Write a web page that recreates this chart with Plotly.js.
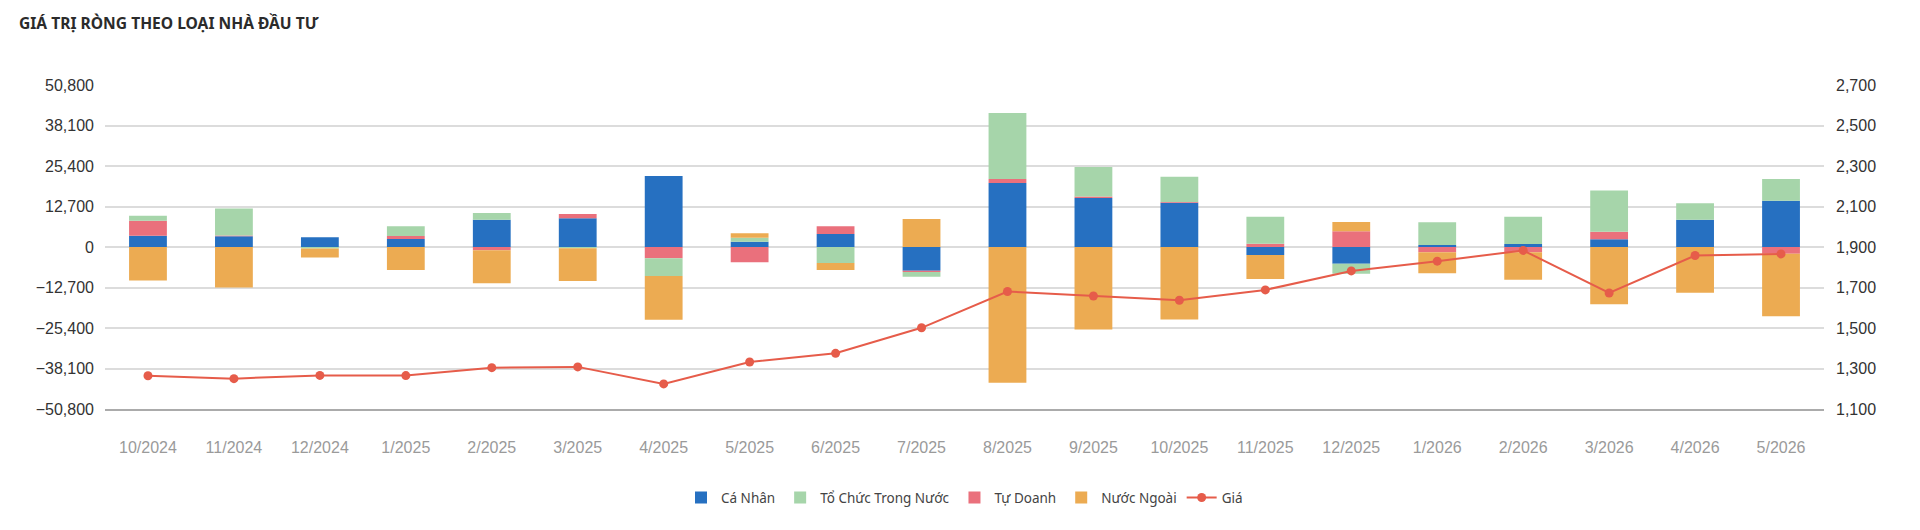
<!DOCTYPE html>
<html>
<head>
<meta charset="utf-8">
<script src="https://cdn.plot.ly/plotly-3.0.1.min.js"></script>
<style>
  html, body { margin: 0; padding: 0; background: #fff; }
  #chart { width: 1920px; height: 530px; }
</style>
</head>
<body>
<div id="chart"></div>
<script>
// Monthly net trading value by investor type, with the index price on the right axis
const months = ['10/2024','11/2024','12/2024','1/2025','2/2025','3/2025','4/2025','5/2025','6/2025','7/2025',
                '8/2025','9/2025','10/2025','11/2025','12/2025','1/2026','2/2026','3/2026','4/2026','5/2026'];

const caNhan    = [3550, 3350, 3030, 2510, 8580, 9000, 22280, 1670, 4080, -7430,
                   20080, 15380, 13910, -2510, -5230, 630, 940, 2410, 8580, 14540];
const tuDoanh   = [4700, 250, 0, 940, -1050, 1360, -3560, -4810, 2410, -420,
                   1260, 420, 200, 1050, 4920, -1670, -1670, 2410, 0, -2090];
const toChucTN  = [1570, 8470, -500, 3030, 2090, -400, -5540, 1260, -5020, -1460,
                   20710, 9310, 7950, 8470, -3140, 7110, 8580, 12870, 5130, 6800];
const nuocNgoai = [-10500, -12700, -2820, -7200, -10300, -10250, -13690, 1360, -2200, 8790,
                   -42570, -25840, -22700, -7530, 2930, -6590, -8580, -17990, -14330, -19660];
const gia       = [1264, 1250, 1266, 1265, 1304, 1308, 1224, 1332, 1375, 1501,
                   1680, 1658, 1637, 1688, 1782, 1830, 1883, 1673, 1858, 1866];

const leftTicks  = [-50800, -38100, -25400, -12700, 0, 12700, 25400, 38100, 50800];
const rightTicks = [1100, 1300, 1500, 1700, 1900, 2100, 2300, 2500, 2700];

const COLORS = {
  caNhan: '#2670c1',
  toChuc: '#a6d5aa',
  tuDoanh: '#ea707c',
  nuocNgoai: '#ecab52',
  gia: '#e65c4a'
};

function barTrace(name, values, color, rank) {
  return {
    type: 'bar', name: name, x: months, y: values,
    marker: { color: color, line: { width: 0 } },
    legendrank: rank,
    hovertemplate: '%{x}<br>' + name + ': %{y:,}<extra></extra>'
  };
}

// Stacking order: Cá Nhân, Tự Doanh, Tổ Chức Trong Nước, Nước Ngoài
const traces = [
  barTrace('Cá Nhân', caNhan, COLORS.caNhan, 1),
  barTrace('Tự Doanh', tuDoanh, COLORS.tuDoanh, 3),
  barTrace('Tổ Chức Trong Nước', toChucTN, COLORS.toChuc, 2),
  barTrace('Nước Ngoài', nuocNgoai, COLORS.nuocNgoai, 4),
  {
    type: 'scatter', mode: 'lines+markers', name: 'Giá',
    x: months, y: gia, yaxis: 'y2',
    line: { color: COLORS.gia, width: 2 },
    marker: { color: COLORS.gia, size: 9 },
    legendrank: 5,
    hovertemplate: '%{x}<br>Giá: %{y:,}<extra></extra>'
  }
];

const tickFont = { family: 'Liberation Sans, Arial, sans-serif', size: 16, color: '#333' };

const layout = {
  width: 1920, height: 530,
  paper_bgcolor: '#fff', plot_bgcolor: '#fff',
  margin: { l: 105, r: 96, t: 85, b: 121 },
  barmode: 'relative',
  bargap: 0.56,
  showlegend: true,
  title: {
    text: '<b>GIÁ TRỊ RÒNG THEO LOẠI NHÀ ĐẦU TƯ</b>',
    xref: 'container', x: 0.0099, xanchor: 'left',
    yref: 'container', y: 0.955, yanchor: 'middle',
    font: { family: 'Noto Sans, sans-serif', size: 15.6, color: '#2b2b2b' }
  },
  xaxis: {
    type: 'category',
    range: [-0.5, 19.5],
    showgrid: false,
    showline: true, linecolor: '#ababab', linewidth: 2,
    ticks: '',
    ticklabelstandoff: 23,
    tickfont: { family: 'Liberation Sans, Arial, sans-serif', size: 16, color: '#9a9a9a' },
    fixedrange: true
  },
  yaxis: {
    range: [-50800, 50800],
    tickvals: leftTicks,
    tickformat: ',',
    showgrid: true, gridcolor: '#dcdcdc', gridwidth: 2,
    zeroline: true, zerolinecolor: '#dcdcdc', zerolinewidth: 2,
    ticks: '',
    ticklabelstandoff: 10,
    tickfont: tickFont,
    fixedrange: true
  },
  yaxis2: {
    overlaying: 'y', side: 'right',
    range: [1100, 2700],
    tickvals: rightTicks,
    tickformat: ',',
    showgrid: false, zeroline: false,
    ticks: '',
    ticklabelstandoff: 11,
    tickfont: tickFont,
    fixedrange: true
  },
  legend: {
    orientation: 'h',
    x: 0.5, xanchor: 'center',
    y: -0.274, yanchor: 'middle',
    font: { family: 'Noto Sans, sans-serif', size: 13.5, color: '#444' },
    traceorder: 'normal',
    itemwidth: 30
  }
};

Plotly.newPlot('chart', traces, layout, { displayModeBar: false, staticPlot: true });
</script>
</body>
</html>
